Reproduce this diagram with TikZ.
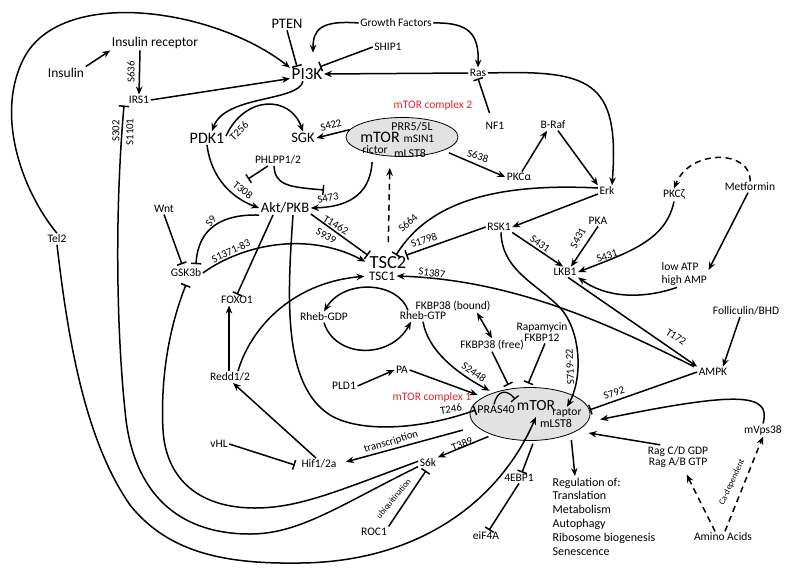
\documentclass[tikz,border=0pt]{standalone}
\usepackage{fontspec}
\setmainfont{Carlito}
\usetikzlibrary{arrows.meta,shapes.geometric}
\definecolor{cred}{RGB}{222,35,45}
\definecolor{cgray}{RGB}{226,226,226}
\begin{document}
\begin{tikzpicture}[x=1pt,y=-1pt,
  every node/.style={inner sep=1.5pt,font=\fontsize{11.5}{12}\selectfont},
  ln/.style={line width=1.5pt},
  act/.style={ln,-{Stealth[length=8pt,width=6.5pt]}},
  inh/.style={ln,-{Bar[width=10pt]}},
  dsh/.style={dash pattern=on 6pt off 4.5pt},
  site/.style={font=\fontsize{10.8}{11}\selectfont,inner sep=0pt},
  tiny/.style={font=\fontsize{8.5}{9}\selectfont,inner sep=0pt},
  fa/.style={font=\fontsize{17}{19}\selectfont},
  fb/.style={font=\fontsize{16}{18}\selectfont},
  fc/.style={font=\fontsize{14.5}{16}\selectfont},
  fd/.style={font=\fontsize{13.5}{15}\selectfont},
  fe/.style={font=\fontsize{12}{13}\selectfont},
  ftsc/.style={font=\fontsize{18.5}{20}\selectfont},
  redlbl/.style={text=cred,font=\fontsize{11.5}{12}\selectfont},
  cplx/.style={ellipse,draw,fill=cgray,line width=0.8pt}
]
\useasboundingbox (0,0) rectangle (800,568);

% complexes
\node[cplx,minimum width=112pt,minimum height=39pt] (c2) at (402,137) {};
\node[cplx,minimum width=120pt,minimum height=53pt] (c1) at (530,414) {};

% nodes
\node[fd] (ins) at (66,73) {Insulin};
\node[fd] (insr) at (155,43) {Insulin receptor};
\node (irs) at (139,100) {IRS1};
\node[fc] (pten) at (287,24) {PTEN};
\node (gf) at (396,23) {Growth Factors};
\node (ship) at (388,47) {SHIP1};
\node[fa] (pi3k) at (307,74) {PI3K};
\node (ras) at (478,73) {Ras};
\node (nf1) at (495,126) {NF1};
\node[redlbl] (c2lab) at (433,105) {mTOR complex 2};
\node[fe] (prr) at (412,127) {PRR5/5L};
\node[fb] (mtor2) at (380,137) {mTOR};
\node (msin) at (419,139) {mSIN1};
\node (rictor) at (375,150) {rictor};
\node[fe] (mlst2) at (410,153) {mLST8};
\node (braf) at (553,125) {B-Raf};
\node (pkca) at (519,177) {PKCα};
\node (erk) at (607,191) {Erk};
\node (pkcz) at (674,195) {PKCζ};
\node (metf) at (750,187) {Metformin};
\node[fb] (pdk1) at (207,138) {PDK1};
\node[fc] (sgk) at (303,138) {SGK};
\node (phlpp) at (278,160) {PHLPP1/2};
\node[fc] (akt) at (285,208) {Akt/PKB};
\node (wnt) at (164,209) {Wnt};
\node (gsk) at (186,273) {GSK3b};
\node (foxo) at (237,300) {FOXO1};
\node (tel2) at (57,239) {Tel2};
\node[ftsc] (tsc2) at (388,263) {TSC2};
\node[font=\fontsize{13}{14}\selectfont] (tsc1) at (382,276) {TSC1};
\node (rsk) at (499,227) {RSK1};
\node (pka) at (598,221) {PKA};
\node (lkb) at (565,272) {LKB1};
\node[align=left,anchor=west,font=\fontsize{11.5}{13.5}\selectfont] (atp) at (660,274) {low ATP\\high AMP};
\node (foll) at (746,311) {Folliculin/BHD};
\node (ampk) at (713,372) {AMPK};
\node (rhebgdp) at (324,317) {Rheb-GDP};
\node (rhebgtp) at (423,316) {Rheb-GTP};
\node (fkbpb) at (453,306) {FKBP38 (bound)};
\node (fkbpf) at (492,345) {FKBP38 (free)};
\node[align=center,font=\fontsize{11.5}{11.5}\selectfont] (rapa) at (542,332) {Rapamycin\\FKBP12};
\node (redd) at (230,377) {Redd1/2};
\node (pld1) at (344,386) {PLD1};
\node (pa) at (402,370) {PA};
\node[redlbl] (c1lab) at (432,397) {mTOR complex 1};
\node[fe] (pras) at (496,410) {PRAS40};
\node[font=\fontsize{15.5}{17}\selectfont] (mtor1) at (536,406) {mTOR};
\node (raptor) at (567,413) {raptor};
\node[fe] (mlst1) at (556,423) {mLST8};
\node (hif) at (319,464) {Hif1/2a};
\node (vhl) at (219,444) {vHL};
\node (s6k) at (428,463) {S6k};
\node (roc1) at (374,532) {ROC1};
\node (ebp) at (519,478) {4EBP1};
\node (eif) at (486,536) {eiF4A};
\node[align=left,anchor=north west,font=\fontsize{12}{13.8}\selectfont] (reg) at (551,476) {Regulation of:\\Translation\\Metabolism\\Autophagy\\Ribosome biogenesis\\Senescence};
\node[align=center,font=\fontsize{11.5}{11}\selectfont] (rag) at (678,457) {Rag C/D GDP\\Rag A/B GTP};
\node (mvps) at (763,430) {mVps38};
\node (amino) at (723,537) {Amino Acids};

\coordinate (t308) at (248,179);
\coordinate (s473) at (324,190);

% top left
\draw[act] (ins.north east) -- (insr.south west);
\draw[act] ([xshift=-15pt]insr.south) -- (irs.north);
\draw[act] (irs.east) -- (pi3k.195);
\draw[act] (tel2.north) .. controls (25,195) and (-5,120) .. (22,62) .. controls (40,22) and (90,10) .. (140,13) .. controls (200,17) and (255,40) .. (pi3k.160);
\draw[act] (tel2.south) .. controls (68,340) and (85,440) .. (130,505) .. controls (170,555) and (230,564) .. (300,563) .. controls (420,562) and (500,500) .. ([yshift=-4pt]mtor1.south);
\draw[inh] (s6k.200) .. controls (340,505) and (300,534) .. (250,534) .. controls (175,534) and (135,490) .. (126,420) .. controls (117,340) and (114,220) .. ([xshift=-15pt]irs.south);
\draw[inh] (s6k.170) .. controls (340,490) and (300,508) .. (255,508) .. controls (200,508) and (166,480) .. (163,430) .. controls (160,370) and (172,320) .. ([yshift=-6pt]gsk.south);

% PI3K region
\draw[act,shorten >=14pt] (gf.west) .. controls (320,20) and (313,30) .. ([xshift=6pt]pi3k.north);
\draw[act] (gf.east) .. controls (470,22) and (479,35) .. (ras.north);
\draw[inh] (pten.south) -- ([xshift=-10pt]pi3k.north);
\draw[inh] (ship.west) -- ([xshift=-4pt]pi3k.north east);
\draw[act] (ras.west) -- (pi3k.east);
\draw[inh,shorten <=8pt] ([xshift=-3pt]nf1.north) -- (ras.south);
\draw[act] ([xshift=-4pt]pi3k.south) .. controls (298,102) and (225,95) .. ([xshift=5pt]pdk1.north);
\draw[act] ([yshift=2pt]pdk1.east) .. controls (245,95) and (290,95) .. (sgk.north);
\draw[act] (c2.172) -- (sgk.east);
\draw[act] (pdk1.south) .. controls (211,178) and (232,198) .. (akt.west);
\draw[inh] ([xshift=-10pt]phlpp.south) -- (t308);
\draw[inh] ([xshift=-4pt]phlpp.south) .. controls (275,186) and (290,187) .. (s473);
\draw[act,shorten <=8pt] (c2.210) .. controls (370,197) and (345,207) .. (akt.east);
\draw[act,shorten <=6pt] (c2.-18) -- (pkca.west);
\draw[act] ([xshift=3pt]pkca.north) -- ([xshift=-6pt]braf.south);
\draw[act] ([xshift=5pt]braf.south) -- (erk.north west);
\draw[act] (ras.east) .. controls (590,70) and (620,80) .. ([xshift=5pt]erk.north);
\draw[act] ([yshift=-3pt]erk.west) -- (rsk.east);
\draw[inh] ([yshift=3pt]erk.west) .. controls (500,183) and (430,200) .. ([xshift=8pt]tsc2.north);
\draw[inh] (rsk.west) -- ([xshift=18pt]tsc2.north);
\draw[act,dsh,shorten <=13pt,shorten >=11pt] (tsc2.north) -- ([xshift=-12pt]c2.south);

% Akt region
\draw[inh] ([yshift=-6pt]akt.east) -- (tsc2.north west);
\draw[inh] ([xshift=-12pt]akt.south) -- (foxo.north);
\draw[inh] (akt.south west) .. controls (222,214) and (198,228) .. ([xshift=10pt,yshift=3pt]gsk.north);
\draw[inh] (wnt.south) -- ([xshift=-4pt,yshift=3pt]gsk.north);
\draw[act,shorten >=3pt] (gsk.east) .. controls (240,246) and (305,230) .. (tsc2.west);
\draw[inh] ([xshift=8pt]akt.south) .. controls (287,300) and (283,385) .. (330,415) .. controls (360,433) and (420,430) .. (pras.west);
\draw[act,shorten >=3pt] ([xshift=8pt]redd.north) .. controls (250,330) and (290,283) .. (tsc1.west);
\draw[act] ([xshift=-1pt]redd.north) -- ([xshift=-8pt]foxo.south);
\draw[act] ([xshift=-3pt]hif.north) -- ([xshift=3pt]redd.south);
\draw[inh] (vhl.east) -- ([xshift=-5pt,yshift=-1pt]hif.west);

% Rheb cycle
\draw[act] ([xshift=-15pt]rhebgtp.north) .. controls (398,282) and (345,278) .. (rhebgdp.north);
\draw[act] (rhebgdp.south) .. controls (335,358) and (390,360) .. ([xshift=-12pt]rhebgtp.south);
\draw[act,shorten >=4pt] (rhebgtp.south) .. controls (428,350) and (455,372) .. (c1.150);
\draw[act,shorten >=6pt] (pa.east) -- (c1.160);
\draw[act] (pld1.east) -- (pa.west);
\draw[ln,{Stealth[length=8pt,width=6.5pt]}-{Stealth[length=8pt,width=6.5pt]}] ([xshift=24pt]fkbpb.south) -- (fkbpf.north);
\draw[inh,shorten >=4pt] (fkbpf.south) -- (c1.128);
\draw[inh,shorten >=4pt] ([xshift=3pt]rapa.south) -- (c1.97);
\draw[inh,line width=1.3pt] ([xshift=-2pt]pras.north) .. controls (497,391) and (506,388) .. (mtor1.north west);

% right side
\draw[act] (pka.south) -- ([xshift=6pt]lkb.north);
\draw[act] (rsk.south east) -- ([xshift=-2pt]lkb.north);
\draw[act] (pkcz.south) .. controls (666,240) and (630,252) .. (lkb.east);
\draw[act] ([xshift=17pt]atp.south west) .. controls (640,300) and (605,297) .. (lkb.south east);
\draw[act] ([xshift=-2pt]metf.south) -- ([yshift=4pt]atp.east);
\draw[act,dsh] (metf.north) .. controls (752,150) and (690,148) .. (pkcz.north);
\draw[act] ([xshift=2pt]rsk.south) .. controls (502,272) and (540,285) .. (562,310) .. controls (582,335) and (582,380) .. (raptor.north);
\draw[act] ([xshift=-6pt]foll.south) -- ([xshift=10pt]ampk.north);
\draw[act] ([xshift=3pt]lkb.south) -- (ampk.north west);
\draw[act] ([xshift=-3pt]ampk.north west) .. controls (620,330) and (520,280) .. (tsc1.east);
\draw[inh] (ampk.west) -- (c1.4);
\draw[act,shorten >=13pt] (mvps.north) .. controls (772,392) and (735,392) .. (c1.-8);
\draw[act,shorten >=12pt] ([xshift=14pt]rag.north west) -- (c1.-20);
\draw[act,dsh,shorten >=6pt] ([xshift=-8pt]amino.north) -- ([xshift=6pt]rag.south);
\draw[act,dsh] ([xshift=2pt]amino.north) -- (mvps.south);

% bottom
\draw[act,shorten <=14pt,shorten >=8pt] (c1.193) -- (hif.east);
\draw[act,shorten <=4pt] (c1.209) -- (s6k.north east);
\draw[inh] (roc1.north east) -- ([xshift=-2pt,yshift=-2pt]s6k.south);
\draw[inh,shorten <=3pt] ([xshift=4pt]c1.south) -- ([xshift=3pt]ebp.north);
\draw[inh] (ebp.south) -- ([xshift=3pt]eif.north);
\draw[act,shorten <=6pt] (c1.334) -- ([xshift=24pt]reg.north west);

% site labels
\node[site,rotate=90] at (131,72) {S636};
\node[site,rotate=90] at (116,131) {S302};
\node[site,rotate=90] at (130,132) {S1101};
\node[site,rotate=45] at (239,131) {T256};
\node[site,rotate=15] at (331,125) {S422};
\node[site,rotate=-38] at (243,190) {T308};
\node[site,rotate=12] at (328,198) {S473};
\node[site,rotate=-17] at (478,156) {S638};
\node[site,rotate=-30] at (336,225) {T1462};
\node[site,rotate=-30] at (326,236) {S939};
\node[site,rotate=50] at (211,221) {S9};
\node[site,rotate=25] at (231,251) {S1371-83};
\node[site,rotate=42] at (408,223) {S664};
\node[site,rotate=18] at (424,240) {S1798};
\node[site,rotate=-8] at (432,273) {S1387};
\node[site,rotate=-35] at (540,244) {S431};
\node[site,rotate=62] at (578,238) {S431};
\node[site,rotate=20] at (607,256) {S431};
\node[site,rotate=-33] at (676,337) {T172};
\node[site,rotate=-35] at (474,372) {S2448};
\node[site,rotate=93] at (570,367) {S719-22};
\node[site,rotate=8] at (451,409) {T246};
\node[site,rotate=17] at (391,442) {transcription};
\node[site,rotate=22] at (462,444) {T389};
\node[tiny,rotate=50] at (394,499) {ubiquitination};
\node[site,rotate=18] at (614,393) {S792};
\node[tiny,rotate=65] at (732,482) {Ca-dependent};
\end{tikzpicture}
\end{document}
